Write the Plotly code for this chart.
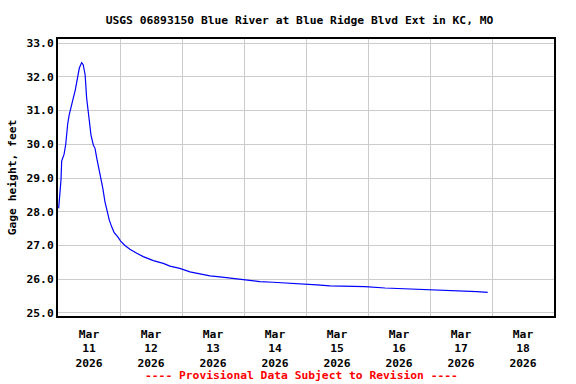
import plotly.graph_objects as go

times = [
    "2026-03-11 00:15", "2026-03-11 00:45", "2026-03-11 01:10", "2026-03-11 01:25",
    "2026-03-11 02:20", "2026-03-11 03:00", "2026-03-11 03:20", "2026-03-11 03:45",
    "2026-03-11 04:20", "2026-03-11 05:00", "2026-03-11 05:55", "2026-03-11 06:40",
    "2026-03-11 07:30", "2026-03-11 08:15", "2026-03-11 09:10", "2026-03-11 09:45",
    "2026-03-11 10:30", "2026-03-11 11:05", "2026-03-11 12:00", "2026-03-11 12:45",
    "2026-03-11 13:40", "2026-03-11 14:20", "2026-03-11 15:00", "2026-03-11 15:50",
    "2026-03-11 16:30", "2026-03-11 17:20", "2026-03-11 18:10", "2026-03-11 19:05",
    "2026-03-11 19:50", "2026-03-11 20:45", "2026-03-11 21:45", "2026-03-11 23:05",
    "2026-03-12 00:15", "2026-03-12 01:55", "2026-03-12 03:50", "2026-03-12 06:30",
    "2026-03-12 09:00", "2026-03-12 12:55", "2026-03-12 16:45", "2026-03-12 19:20",
    "2026-03-12 23:10", "2026-03-13 03:05", "2026-03-13 07:00", "2026-03-13 10:50",
    "2026-03-13 14:40", "2026-03-13 18:35", "2026-03-13 22:25", "2026-03-14 02:20",
    "2026-03-14 06:10", "2026-03-14 11:15", "2026-03-14 16:35", "2026-03-14 20:55",
    "2026-03-14 21:40", "2026-03-15 04:15", "2026-03-15 09:20", "2026-03-15 22:50",
    "2026-03-16 06:35", "2026-03-16 18:10", "2026-03-16 20:55", "2026-03-17 05:00",
    "2026-03-17 18:10", "2026-03-17 22:20",
]
gage_height = [
    28.10, 28.60, 28.95, 29.50,
    29.70, 30.00, 30.30, 30.60,
    30.87, 31.12, 31.37, 31.60,
    31.96, 32.26, 32.42, 32.36,
    32.06, 31.37, 30.78, 30.28,
    29.98, 29.88, 29.59, 29.29,
    29.04, 28.70, 28.30, 28.00,
    27.76, 27.56, 27.38, 27.26,
    27.13, 27.00, 26.89, 26.77,
    26.67, 26.55, 26.47, 26.39,
    26.32, 26.22, 26.15, 26.10,
    26.07, 26.03, 25.99, 25.96,
    25.93, 25.91, 25.89, 25.87,
    25.86, 25.83, 25.80, 25.78,
    25.74, 25.71, 25.69, 25.66,
    25.63, 25.61,
]

tick_dates = ["2026-03-11 12:00", "2026-03-12 12:00", "2026-03-13 12:00", "2026-03-14 12:00",
              "2026-03-15 12:00", "2026-03-16 12:00", "2026-03-17 12:00", "2026-03-18 12:00"]
tick_labels = ["Mar<br>11<br>2026", "Mar<br>12<br>2026", "Mar<br>13<br>2026", "Mar<br>14<br>2026",
               "Mar<br>15<br>2026", "Mar<br>16<br>2026", "Mar<br>17<br>2026", "Mar<br>18<br>2026"]
y_ticks = [25, 26, 27, 28, 29, 30, 31, 32, 33]
y_tick_labels = ["25.0", "26.0", "27.0", "28.0", "29.0", "30.0", "31.0", "32.0", "33.0"]

FONT = "DejaVu Sans Mono"
FS = 11.3

fig = go.Figure()
fig.add_trace(go.Scatter(x=times, y=gage_height, mode="lines",
                         line=dict(color="#0000ff", width=1.2),
                         showlegend=False))

fig.update_layout(
    width=576, height=384,
    margin=dict(l=58, r=22, t=39, b=68),
    paper_bgcolor="white", plot_bgcolor="white",
    font=dict(family=FONT, size=FS, color="black", weight="bold"),
    title=dict(text="USGS 06893150 Blue River at Blue Ridge Blvd Ext in KC, MO",
               x=0.52, xanchor="center", y=0.948, yanchor="middle",
               font=dict(family=FONT, size=FS, color="black", weight="bold")),
    xaxis=dict(
        type="date",
        range=["2026-03-11 00:00", "2026-03-19 00:00"],
        tickmode="array", tickvals=tick_dates, ticktext=tick_labels,
        showgrid=False, ticks="", ticklabelstandoff=6,
        showline=True, linecolor="black", linewidth=2, mirror=True,
        minor=dict(dtick=86400000, tick0="2026-03-11", showgrid=True,
                   gridcolor="#cccccc", gridwidth=1, ticks=""),
        zeroline=False,
    ),
    yaxis=dict(
        range=[24.91, 33.12],
        tickmode="array", tickvals=y_ticks, ticktext=y_tick_labels,
        showgrid=True, gridcolor="#cccccc", gridwidth=1, ticks="",
        showline=True, linecolor="black", linewidth=2, mirror=True,
        zeroline=False,
        title=dict(text="Gage height, feet", standoff=8,
                   font=dict(family=FONT, size=FS, weight="bold")),
    ),
    annotations=[dict(
        text="---- Provisional Data Subject to Revision ----",
        xref="paper", yref="paper", x=0.49, y=-0.215, xanchor="center", yanchor="middle",
        showarrow=False, font=dict(family=FONT, size=FS, color="red", weight="bold"),
    )],
)

fig.write_html("out.html", config={"displayModeBar": False},
               post_script="document.body.style.margin='0';document.body.style.padding='0';")
